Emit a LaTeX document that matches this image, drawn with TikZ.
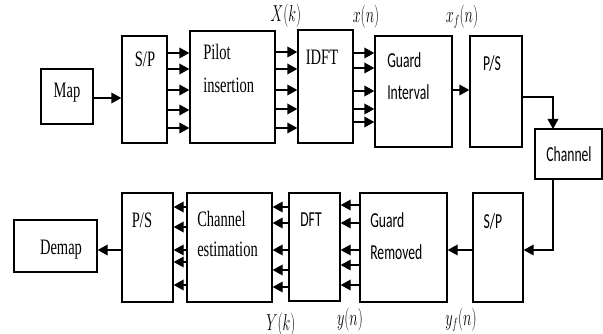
\documentclass[tikz,border=0pt]{standalone}
\usepackage{fontspec}
\usepackage{graphicx}
\usetikzlibrary{arrows.meta,fit}
\newfontfamily\tmsfont[FakeStretch=0.66]{Liberation Serif}
\newfontfamily\calfont[FakeStretch=0.64]{Carlito}
\newcommand\mlab[1]{\scalebox{0.62}[1]{\fontsize{16}{18}\selectfont$#1$}}
\begin{document}
\begin{tikzpicture}[x=0.75pt,y=-0.75pt,
  blk/.style={draw, line width=1pt, inner sep=0pt},
  arr/.style={line width=1pt, -{Triangle[length=7.5pt,width=8pt]}},
  conn/.style={line width=1pt},
  ts/.style={inner sep=0pt, font=\tmsfont\fontsize{16.5}{18}\selectfont},
  cs/.style={inner sep=0pt, font=\calfont\fontsize{16}{18}\selectfont},
  ml/.style={inner sep=0pt}]
\useasboundingbox (0,0) rectangle (603,334);
% top row boxes
\node[blk, fit={(41,69) (93,124)}] (map) {};
\node[blk, fit={(122,36) (167,143)}] (sp1) {};
\node[blk, fit={(190,31) (275,143)}] (pilot) {};
\node[blk, fit={(298,30) (353,143)}] (idft) {};
\node[blk, fit={(375,36) (452,147)}] (gi) {};
\node[blk, fit={(470,36) (522,147)}] (ps1) {};
\node[blk, fit={(535,129) (602,179)}] (chan) {};
% bottom row boxes
\node[blk, fit={(14,220) (97,272)}] (demap) {};
\node[blk, fit={(122,193) (173,302)}] (ps2) {};
\node[blk, fit={(187,193) (272,302)}] (ce) {};
\node[blk, fit={(289,193) (340,301)}] (dft) {};
\node[blk, fit={(360,193) (447,302)}] (gr) {};
\node[blk, fit={(473,193) (523,302)}] (sp2) {};
% texts
\node[ts, anchor=base] (tmap) at (67,98) {Map};
\node[ts, anchor=base] (tsp1) at (145,67) {S/P};
\node[ts, anchor=base west] (tpilot1) at (203,60) {Pilot};
\node[ts, anchor=base west] (tpilot2) at (203,93) {insertion};
\node[ts, anchor=base] (tidft) at (322,65) {IDFT};
\node[cs, anchor=base west] (tgi1) at (387,68) {Guard};
\node[cs, anchor=base west] (tgi2) at (387,100) {Interval};
\node[cs, anchor=base] (tps1) at (492,71) {P/S};
\node[cs, anchor=base] (tchan) at (569,162) {Channel};
\node[ts, anchor=base] (tdemap) at (61,255) {Demap};
\node[ts, anchor=base] (tps2) at (142,228) {P/S};
\node[ts, anchor=base west] (tce1) at (197,227) {Channel};
\node[ts, anchor=base west] (tce2) at (197,257) {estimation};
\node[cs, anchor=base] (tdft) at (311,227) {DFT};
\node[cs, anchor=base west] (tgr1) at (370,228) {Guard};
\node[cs, anchor=base west] (tgr2) at (370,260) {Removed};
\node[cs, anchor=base] (tsp2) at (493,229) {S/P};
% math labels
\node[ml] (lXk) at (286,16) {\mlab{X(k)}};
\node[ml] (lxn) at (366,17) {\mlab{x(n)}};
\node[ml] (lxfn) at (462,17) {\mlab{x_f(n)}};
\node[ml] (lYk) at (281,325) {\mlab{Y(k)}};
\node[ml] (lyn) at (350,320) {\mlab{y(n)}};
\node[ml] (lyfn) at (461,320) {\mlab{y_f(n)}};
% top connectors
\draw[arr] (map.east |- 0,98) -- (sp1.west |- 0,98);
\foreach \y in {53,69,90,110,128} \draw[arr] (sp1.east |- 0,\y) -- (pilot.west |- 0,\y);
\foreach \y in {52,69,90,109,128} \draw[arr] (pilot.east |- 0,\y) -- (idft.west |- 0,\y);
\foreach \y in {53,68,91,109,122} \draw[arr] (idft.east |- 0,\y) -- (gi.west |- 0,\y);
\draw[arr] (gi.east |- 0,90) -- (ps1.west |- 0,90);
\coordinate (cin) at (553,129);
\coordinate (cout) at (553,179);
\draw[arr] (ps1.east |- 0,97) -| (cin);
% bottom connectors
\draw[arr] (cout) |- (sp2.east |- 0,250);
\draw[arr] (sp2.west |- 0,250) -- (gr.east |- 0,250);
\foreach \y in {205,223,250,265,285} \draw[arr] (gr.west |- 0,\y) -- (dft.east |- 0,\y);
\foreach \y in {207,223,250,270,287} \draw[arr] (dft.west |- 0,\y) -- (ce.east |- 0,\y);
\foreach \y in {207,227,250,262,285} \draw[arr] (ce.west |- 0,\y) -- (ps2.east |- 0,\y);
\draw[arr] (ps2.west |- 0,250) -- (demap.east |- 0,250);
\end{tikzpicture}
\end{document}
